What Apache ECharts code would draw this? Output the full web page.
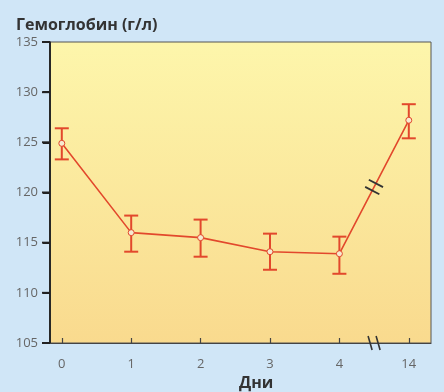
<!DOCTYPE html>
<html><head><meta charset="utf-8">
<script src="https://cdn.jsdelivr.net/npm/echarts@6/dist/echarts.min.js"></script>
<style>html,body{margin:0;padding:0;background:#d0e6f7;}#c{width:444px;height:392px;}</style>
</head><body><div id="c"></div>
<script>
const categories = ['0','1','2','3','4','14'];
const means = [124.9, 116.0, 115.5, 114.1, 113.9, 127.2];
const upper = [126.4, 117.7, 117.3, 115.9, 115.6, 128.8];
const lower = [123.3, 114.1, 113.6, 112.3, 111.9, 125.4];
const yTicks = [105, 110, 115, 120, 125, 130, 135];

const RED = '#e2482c';
const chart = echarts.init(document.getElementById('c'));
const pos = categories.map((_, i) => i);
const lineData = means.map((v, i) => [i, v]);
const errData = means.map((v, i) => [i, lower[i], upper[i]]);
const X_MIN = -0.17, X_MAX = 5.32;

chart.setOption({
  backgroundColor: '#d0e6f7',
  animation: false,
  title: [
    {text: 'Гемоглобин (г/л)', left: 11, top: 12,
     textStyle: {fontFamily: 'Open Sans', fontSize: 16, fontWeight: 'bold', color: '#333'}},
    {text: 'Дни', left: 234, top: 370,
     textStyle: {fontFamily: 'Open Sans', fontSize: 16, fontWeight: 'bold', color: '#333'}}
  ],
  grid: {left: 50, right: 13, top: 42, bottom: 49, show: true,
    borderColor: '#555', borderWidth: 1,
    backgroundColor: new echarts.graphic.LinearGradient(0, 0, 0, 1, [
      {offset: 0, color: '#fdf6ab'}, {offset: 1, color: '#f9da8e'}])},
  xAxis: {
    type: 'value', min: X_MIN, max: X_MAX,
    axisLine: {show: true, onZero: false, lineStyle: {color: '#444', width: 1.2}},
    axisTick: {show: true, inside: true, length: 5, customValues: pos, lineStyle: {color: '#444', width: 1.2}},
    axisLabel: {customValues: pos, formatter: v => categories[Math.round(v)], margin: 15,
      fontFamily: 'Open Sans', fontSize: 13, color: '#666'},
    splitLine: {show: false}
  },
  yAxis: {
    type: 'value', min: yTicks[0], max: yTicks[yTicks.length - 1], interval: 5,
    axisLine: {show: true, onZero: false, lineStyle: {color: '#222', width: 1.5}},
    axisTick: {show: true, inside: false, length: 7, lineStyle: {color: '#222', width: 2}},
    axisLabel: {margin: 12, fontFamily: 'Open Sans', fontSize: 13, color: '#666'},
    splitLine: {show: false}
  },
  series: [
    {
      type: 'custom', z: 3,
      data: errData,
      renderItem: (params, api) => {
        const x = api.value(0);
        const lo = api.coord([x, api.value(1)]);
        const hi = api.coord([x, api.value(2)]);
        const w = 7;
        const st = {stroke: RED, lineWidth: 2};
        return {type: 'group', children: [
          {type: 'line', shape: {x1: lo[0], y1: lo[1], x2: hi[0], y2: hi[1]}, style: st},
          {type: 'line', shape: {x1: lo[0] - w, y1: lo[1], x2: lo[0] + w, y2: lo[1]}, style: st},
          {type: 'line', shape: {x1: hi[0] - w, y1: hi[1], x2: hi[0] + w, y2: hi[1]}, style: st}
        ]};
      }
    },
    {
      type: 'line', z: 4, data: lineData,
      lineStyle: {color: RED, width: 1.6},
      symbol: 'circle', symbolSize: 6,
      itemStyle: {color: '#f6ead0', borderColor: RED, borderWidth: 1}
    }
  ]
});

const g = [];
const yb = chart.convertToPixel({gridIndex: 0}, [X_MIN, yTicks[0]]);
const yt = chart.convertToPixel({gridIndex: 0}, [X_MIN, yTicks[yTicks.length - 1]]);
g.push({type: 'line', z: 10, shape: {x1: yb[0], y1: yb[1], x2: yt[0], y2: yt[1]},
  style: {stroke: '#222', lineWidth: 1.6}});
yTicks.forEach(v => {
  const p = chart.convertToPixel({gridIndex: 0}, [X_MIN, v]);
  g.push({type: 'line', z: 10, shape: {x1: p[0] - 8, y1: p[1], x2: p[0], y2: p[1]},
    style: {stroke: '#222', lineWidth: 2}});
});
const p4 = chart.convertToPixel({gridIndex: 0}, [4, means[4]]);
const p5 = chart.convertToPixel({gridIndex: 0}, [5, means[5]]);
const mid = [(p4[0] + p5[0]) / 2, (p4[1] + p5[1]) / 2];
const dx = p5[0] - p4[0], dy = p5[1] - p4[1];
const L = Math.hypot(dx, dy);
const ux = dx / L, uy = dy / L;
const nx = -uy, ny = ux;
[-4, 4].forEach(o => {
  const cx = mid[0] + ux * o, cy = mid[1] + uy * o;
  g.push({type: 'line', z: 10, shape: {x1: cx - nx * 8, y1: cy - ny * 8, x2: cx + nx * 8, y2: cy + ny * 8},
    style: {stroke: '#333', lineWidth: 1.8}});
});
const ax = chart.convertToPixel({gridIndex: 0}, [4.5, yTicks[0]]);
[-4, 4].forEach(o => {
  const cx = ax[0] + o, cy = ax[1];
  g.push({type: 'line', z: 10, shape: {x1: cx - 2, y1: cy - 7, x2: cx + 2, y2: cy + 7},
    style: {stroke: '#333', lineWidth: 1.6}});
});
chart.setOption({graphic: g});
</script>
</body></html>
